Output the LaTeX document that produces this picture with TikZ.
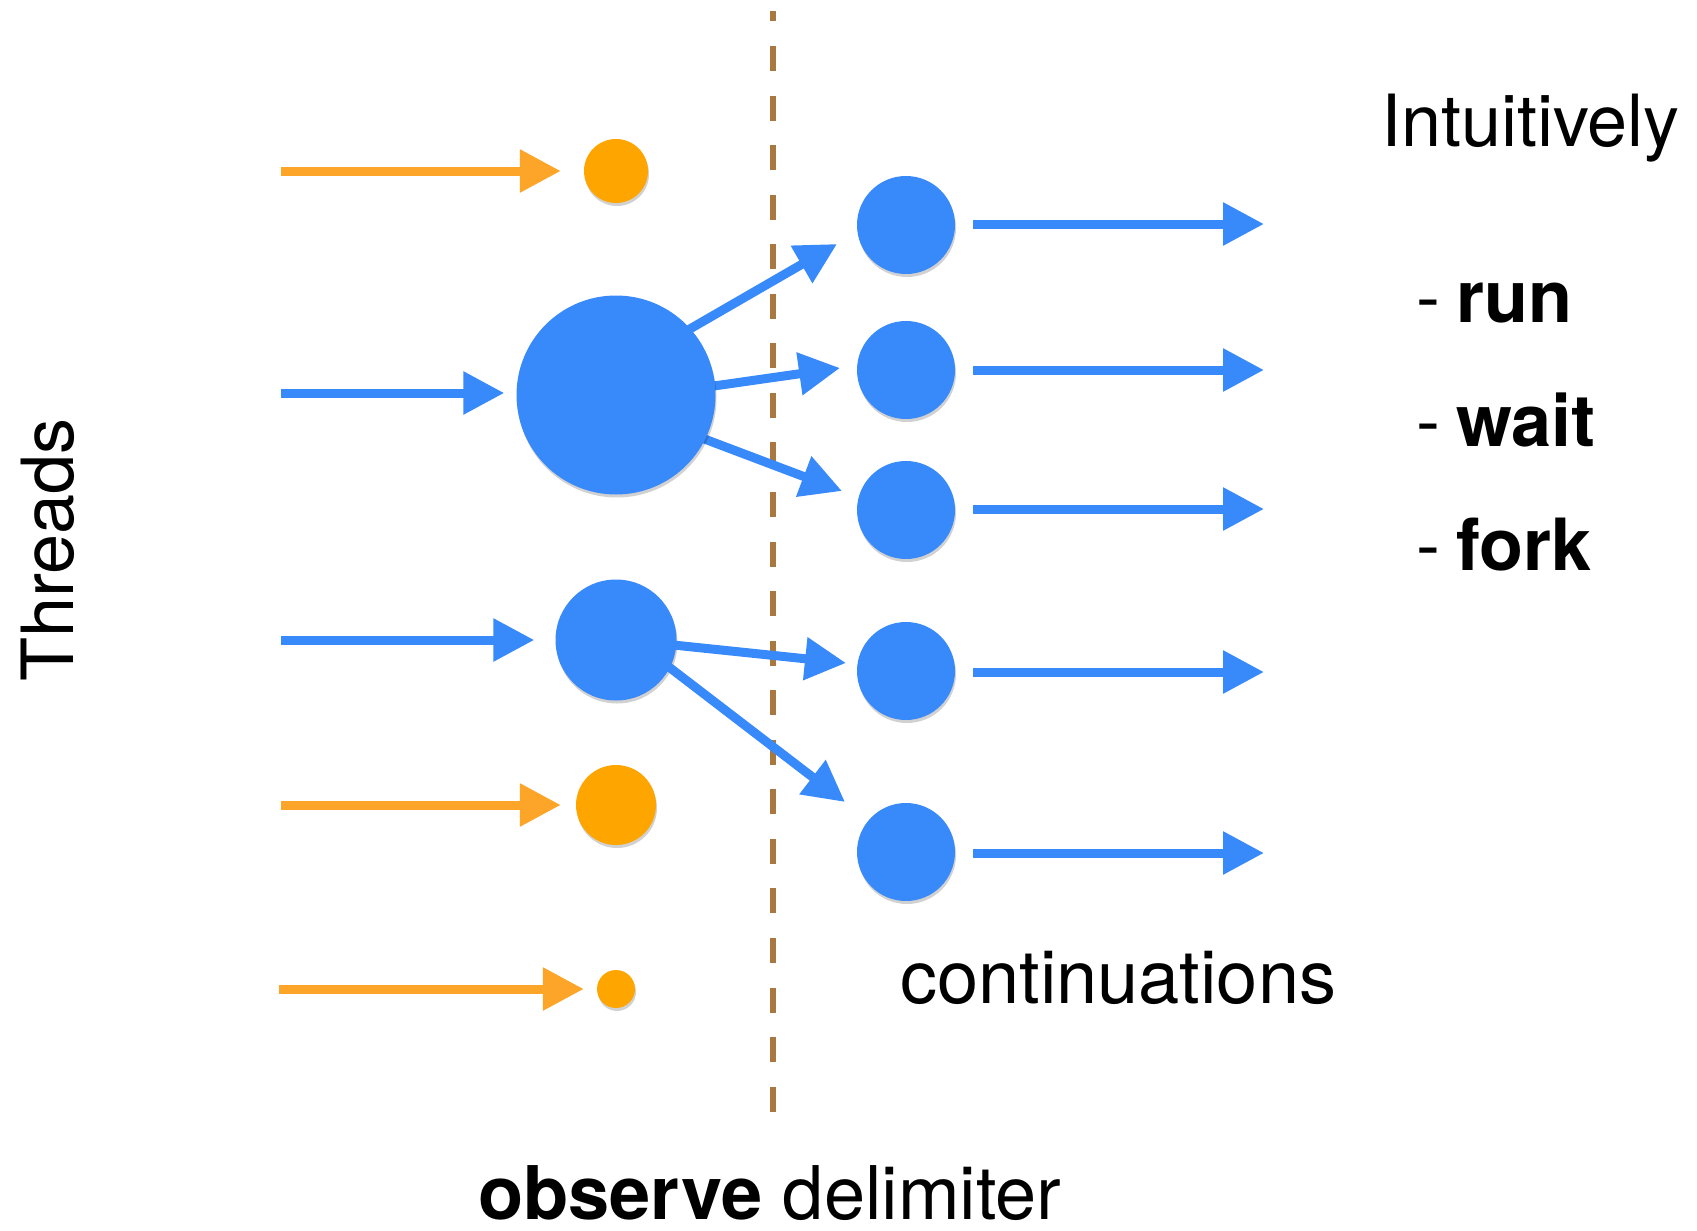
\documentclass[tikz,border=0pt]{standalone}
\usepackage{fontspec}
\setmainfont{TeX Gyre Heros}
\usetikzlibrary{arrows.meta,shadows}
\definecolor{tblue}{RGB}{56,137,250}
\definecolor{tor}{RGB}{255,165,0}
\definecolor{torarrow}{RGB}{253,165,40}
\definecolor{tbrown}{RGB}{168,120,64}
\tikzset{
  flow/.style={line width=9pt, -{Triangle[length=41pt,width=41pt]}},
  bflow/.style={flow, draw=tblue, fill=tblue},
  oflow/.style={flow, draw=torarrow, fill=torarrow},
  dot/.style={circle, inner sep=0pt, draw=none,
    drop shadow={shadow xshift=1pt, shadow yshift=-3pt, opacity=0.18, fill=black}},
  bdot/.style={dot, fill=tblue},
  odot/.style={dot, fill=tor},
  lbl/.style={inner sep=0pt, anchor=base west, font=\fontsize{72}{80}\selectfont},
  delim/.style={draw=tbrown, line width=5.5pt, dash pattern=on 25pt off 24.55pt, dash phase=14.5pt}
}
\begin{document}
\begin{tikzpicture}[x=1pt,y=-1pt]
\useasboundingbox (0,0) rectangle (1697,1231);
% observe delimiter line
\coordinate (dtop) at (773,11);
\coordinate (dbot) at (773,1112);
\draw[delim] (dtop) -- (dbot);

% left starts
\coordinate (s1) at (281,171);
\coordinate (s2) at (281,393);
\coordinate (s3) at (281,640);
\coordinate (s4) at (281,805);
\coordinate (s5) at (279,989);

% tips of fork arrows
\coordinate (t1) at (837,244);
\coordinate (t2) at (840,368);
\coordinate (t3) at (842,491);
\coordinate (t4) at (846,663);
\coordinate (t5) at (845,802);
\coordinate (m0) at (635,641);

% right ends
\coordinate (e1) at (1264,224);
\coordinate (e2) at (1264,370);
\coordinate (e3) at (1264,509);
\coordinate (e4) at (1264,672);
\coordinate (e5) at (1264,853);

% right circles
\node[bdot, minimum size=98pt] (r1) at (906,225) {};
\node[bdot, minimum size=98pt] (r2) at (906,370) {};
\node[bdot, minimum size=98pt] (r3) at (906,510) {};
\node[bdot, minimum size=98pt] (r4) at (906,671) {};
\node[bdot, minimum size=98pt] (r5) at (906,852) {};

% fork arrows from big circle (drawn below it)
\draw[bflow] (616,395) ++(43:90pt) coordinate (b1) -- (t1);
\draw[bflow] (616,395) ++(5:90pt) coordinate (b2) -- (t2);
\draw[bflow] (616,395) ++(-27:90pt) coordinate (b3) -- (t3);

% left circles
\node[odot, minimum size=64pt] (o1) at (616,171) {};
\node[bdot, minimum size=199pt] (B) at (616,395) {};
\node[bdot, minimum size=121pt] (M) at (616,640) {};
\node[odot, minimum size=80pt] (o4) at (616,805) {};
\node[odot, minimum size=38pt] (o5) at (616,989) {};

% incoming arrows
\draw[oflow, shorten >=23pt] (s1) -- (s1 -| o1.west);
\draw[bflow, shorten >=12pt] (s2) -- (s2 -| B.west);
\draw[bflow, shorten >=21pt] (s3) -- (s3 -| M.west);
\draw[oflow, shorten >=15pt] (s4) -- (s4 -| o4.west);
\draw[oflow, shorten >=13pt] (s5) -- (s5 -| o5.west);

% fork arrows from medium circle
\draw[bflow] (m0) -- (t4);
\draw[bflow] (m0) -- (t5);

% outgoing arrows
\draw[bflow, shorten <=18pt] (e1 -| r1.east) -- (e1);
\draw[bflow, shorten <=18pt] (e2 -| r2.east) -- (e2);
\draw[bflow, shorten <=18pt] (e3 -| r3.east) -- (e3);
\draw[bflow, shorten <=18pt] (e4 -| r4.east) -- (e4);
\draw[bflow, shorten <=18pt] (e5 -| r5.east) -- (e5);

% texts
\node[lbl] (intu) at (1381,146) {Intuitively};
\node[lbl] (run) at (1416,322) {-\hspace{0.22em}\textbf{run}};
\node[lbl] (wait) at (1416,446) {-\hspace{0.22em}\textbf{wait}};
\node[lbl] (fork) at (1416,570) {-\hspace{0.22em}\textbf{fork}};
\node[lbl, font=\fontsize{74}{80}\selectfont] (cont) at (900,1003) {continuations};
\node[lbl, font=\fontsize{74}{80}\selectfont] (obs) at (478,1219) {\textbf{observe} delimiter};
\node[lbl, rotate=90, font=\fontsize{72}{80}\selectfont] (thr) at (73,682) {Threads};
\end{tikzpicture}
\end{document}
